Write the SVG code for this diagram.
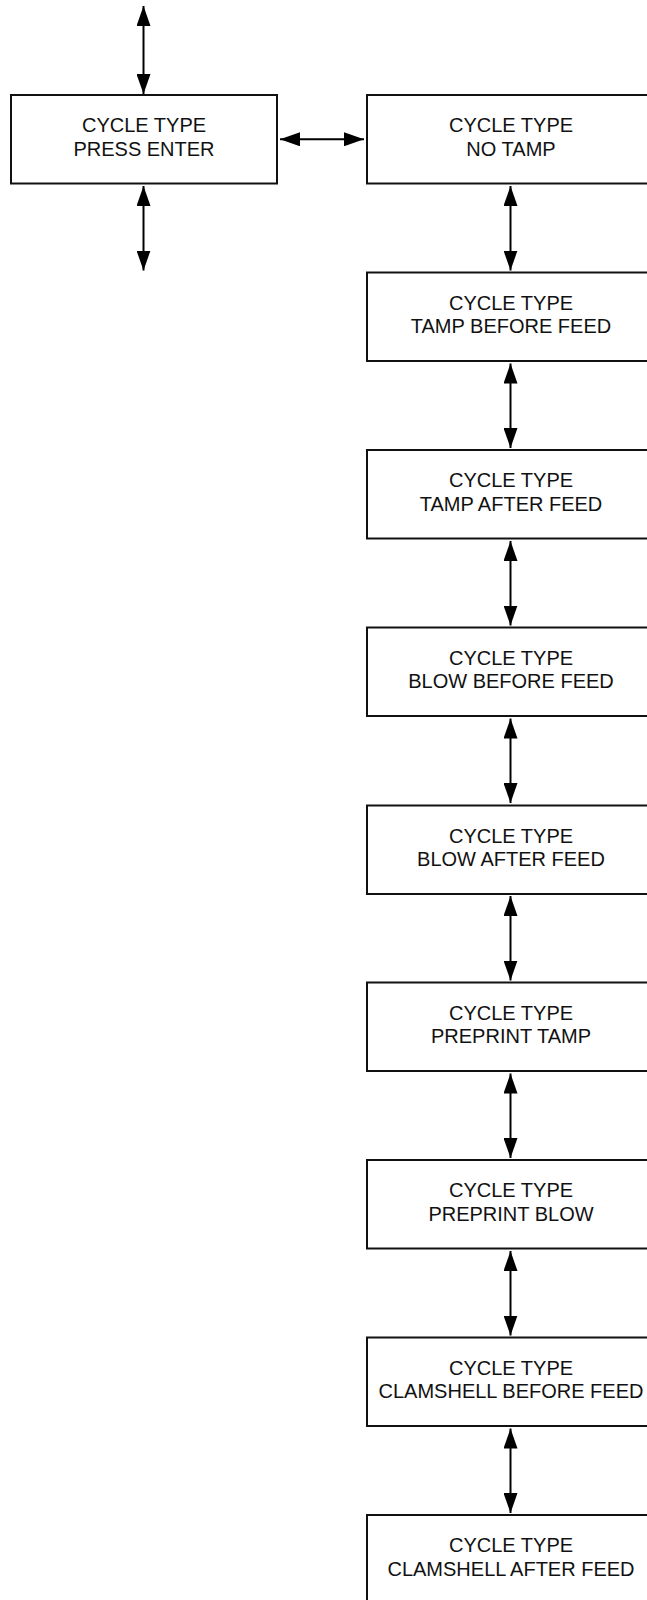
<svg xmlns="http://www.w3.org/2000/svg" width="647" height="1600" viewBox="0 0 647 1600">
<defs>
<style>
.box{fill:#fff;stroke:#111;stroke-width:2}
.lbl{font-family:"Liberation Sans",Arial,sans-serif;font-size:20px;fill:#111;text-anchor:middle}
.conn{stroke:#000;stroke-width:2;fill:none;marker-start:url(#ah);marker-end:url(#ah)}
</style>
<marker id="ah" markerUnits="userSpaceOnUse" markerWidth="20" markerHeight="14" refX="20" refY="7" orient="auto-start-reverse" viewBox="0 0 20 14">
<path d="M0,0 L20,7 L0,14 z" fill="#000"/>
</marker>
</defs>
<rect width="647" height="1600" fill="#fff"/>
<g id="connectors">
<line class="conn" x1="143.5" y1="6" x2="143.5" y2="94"/>
<line class="conn" x1="143.5" y1="186" x2="143.5" y2="270.5"/>
<line class="conn" x1="280" y1="139.3" x2="364" y2="139.3"/>
<line class="conn" x1="510.5" y1="186" x2="510.5" y2="270.5"/>
<line class="conn" x1="510.5" y1="363.5" x2="510.5" y2="448"/>
<line class="conn" x1="510.5" y1="541" x2="510.5" y2="625.5"/>
<line class="conn" x1="510.5" y1="718.5" x2="510.5" y2="803"/>
<line class="conn" x1="510.5" y1="896" x2="510.5" y2="980.5"/>
<line class="conn" x1="510.5" y1="1073.5" x2="510.5" y2="1158"/>
<line class="conn" x1="510.5" y1="1251" x2="510.5" y2="1335.5"/>
<line class="conn" x1="510.5" y1="1428.5" x2="510.5" y2="1513"/>
</g>
<g id="press-enter">
<rect class="box" x="11" y="95" width="266" height="88.5"/>
<text class="lbl" x="144" y="132.3">CYCLE TYPE</text>
<text class="lbl" x="144" y="155.7">PRESS ENTER</text>
</g>
<g id="no-tamp">
<rect class="box" x="367" y="95" width="290" height="88.5"/>
<text class="lbl" x="511" y="132.3">CYCLE TYPE</text>
<text class="lbl" x="511" y="155.7">NO TAMP</text>
</g>
<g id="tamp-before-feed">
<rect class="box" x="367" y="272.5" width="290" height="88.5"/>
<text class="lbl" x="511" y="309.8">CYCLE TYPE</text>
<text class="lbl" x="511" y="333.2">TAMP BEFORE FEED</text>
</g>
<g id="tamp-after-feed">
<rect class="box" x="367" y="450" width="290" height="88.5"/>
<text class="lbl" x="511" y="487.3">CYCLE TYPE</text>
<text class="lbl" x="511" y="510.7">TAMP AFTER FEED</text>
</g>
<g id="blow-before-feed">
<rect class="box" x="367" y="627.5" width="290" height="88.5"/>
<text class="lbl" x="511" y="664.8">CYCLE TYPE</text>
<text class="lbl" x="511" y="688.2">BLOW BEFORE FEED</text>
</g>
<g id="blow-after-feed">
<rect class="box" x="367" y="805.5" width="290" height="88.5"/>
<text class="lbl" x="511" y="842.8">CYCLE TYPE</text>
<text class="lbl" x="511" y="866.2">BLOW AFTER FEED</text>
</g>
<g id="preprint-tamp">
<rect class="box" x="367" y="982.5" width="290" height="88.5"/>
<text class="lbl" x="511" y="1019.8">CYCLE TYPE</text>
<text class="lbl" x="511" y="1043.2">PREPRINT TAMP</text>
</g>
<g id="preprint-blow">
<rect class="box" x="367" y="1160" width="290" height="88.5"/>
<text class="lbl" x="511" y="1197.3">CYCLE TYPE</text>
<text class="lbl" x="511" y="1220.7">PREPRINT BLOW</text>
</g>
<g id="clamshell-before-feed">
<rect class="box" x="367" y="1337.5" width="290" height="88.5"/>
<text class="lbl" x="511" y="1374.8">CYCLE TYPE</text>
<text class="lbl" x="511" y="1398.2">CLAMSHELL BEFORE FEED</text>
</g>
<g id="clamshell-after-feed">
<rect class="box" x="367" y="1515" width="290" height="88.5"/>
<text class="lbl" x="511" y="1552.3">CYCLE TYPE</text>
<text class="lbl" x="511" y="1575.7">CLAMSHELL AFTER FEED</text>
</g>
</svg>
